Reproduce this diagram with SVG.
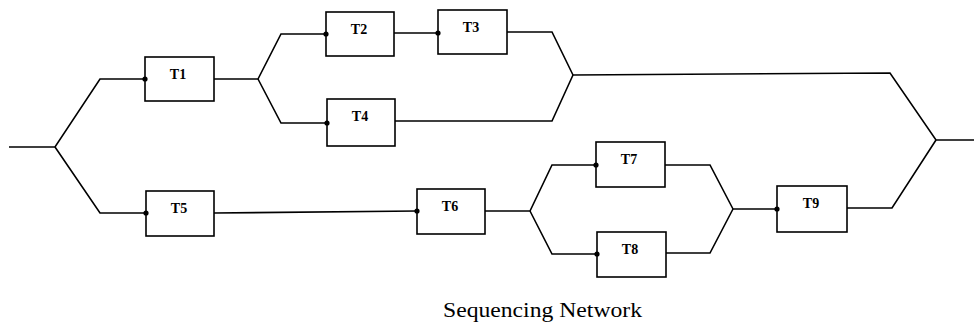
<svg xmlns="http://www.w3.org/2000/svg" width="974" height="326" viewBox="0 0 974 326">
<style>
.box{fill:none;stroke:#000;stroke-width:1.6}
.lbl{font-family:"Liberation Serif",serif;font-weight:bold;font-size:14px;text-anchor:middle;fill:#000}
.con{fill:none;stroke:#000;stroke-width:1.6;stroke-linejoin:miter}
.dot{fill:#000}
.cap{font-family:"Liberation Serif",serif;font-size:20px;fill:#000}
</style>
<rect width="974" height="326" fill="#fff"/>
<g id="connectors">
<path class="con" d="M9,147 H55 L100,79 H145"/>
<path class="con" d="M55,147 L100,213 H146"/>
<path class="con" d="M214,79 H258 L281,34 H326"/>
<path class="con" d="M258,79 L281,123 H327"/>
<path class="con" d="M394,33 H438"/>
<path class="con" d="M507,32 H552 L573,75"/>
<path class="con" d="M395,121 H552 L573,75"/>
<path class="con" d="M573,75 L890,73 L936,140 H974"/>
<path class="con" d="M214,213 L417,211"/>
<path class="con" d="M485,211 H530 L552,165 H596"/>
<path class="con" d="M530,211 L552,254 H597"/>
<path class="con" d="M665,165 H710 L733,209"/>
<path class="con" d="M666,253 H710 L733,209"/>
<path class="con" d="M733,209 H777"/>
<path class="con" d="M847,208 H892 L936,140"/>
<circle class="dot" cx="145" cy="79" r="2.6"/>
<circle class="dot" cx="146" cy="213" r="2.6"/>
<circle class="dot" cx="326" cy="34" r="2.6"/>
<circle class="dot" cx="327" cy="123" r="2.6"/>
<circle class="dot" cx="438" cy="33" r="2.6"/>
<circle class="dot" cx="417" cy="211" r="2.6"/>
<circle class="dot" cx="596" cy="165" r="2.6"/>
<circle class="dot" cx="597" cy="254" r="2.6"/>
<circle class="dot" cx="777" cy="209" r="2.6"/>
</g>
<g id="T1"><rect class="box" x="145" y="57" width="69" height="44"/><text class="lbl" x="178" y="79">T1</text></g>
<g id="T2"><rect class="box" x="326" y="12" width="68" height="44"/><text class="lbl" x="359" y="34">T2</text></g>
<g id="T3"><rect class="box" x="438" y="10" width="69" height="44"/><text class="lbl" x="471" y="32">T3</text></g>
<g id="T4"><rect class="box" x="327" y="99" width="68" height="47"/><text class="lbl" x="360" y="121">T4</text></g>
<g id="T5"><rect class="box" x="146" y="191" width="68" height="45"/><text class="lbl" x="179" y="213">T5</text></g>
<g id="T6"><rect class="box" x="417" y="189" width="68" height="45"/><text class="lbl" x="450" y="211">T6</text></g>
<g id="T7"><rect class="box" x="596" y="142" width="69" height="45"/><text class="lbl" x="629" y="164">T7</text></g>
<g id="T8"><rect class="box" x="597" y="232" width="69" height="45"/><text class="lbl" x="630" y="254">T8</text></g>
<g id="T9"><rect class="box" x="777" y="186" width="70" height="46"/><text class="lbl" x="811" y="208">T9</text></g>
<text class="cap" x="443" y="317" textLength="199" lengthAdjust="spacingAndGlyphs">Sequencing Network</text>
</svg>
